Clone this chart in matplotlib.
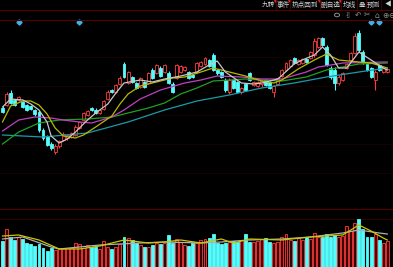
import matplotlib.pyplot as plt
from matplotlib.lines import Line2D
from matplotlib.patches import Ellipse, Polygon

plt.rcParams['font.family'] = ['Noto Sans CJK SC', 'DejaVu Sans']

# daily candles (price)
opens = [14.2, 14.5, 15.7, 15.0, 15.0, 14.8, 14.5, 14.4, 14.0, 13.8,
         12.0, 11.3, 10.6, 9.8, 10.4, 11.0, 11.2, 11.3, 11.5, 12.2,
         13.0, 13.5, 14.2, 14.0, 13.7, 14.1, 15.1, 16.0, 15.8, 16.6,
         18.6, 16.7, 17.3, 16.7, 16.3, 16.8, 16.7, 18.0, 17.7, 18.2,
         17.8, 17.7, 16.6, 17.2, 17.8, 18.0, 17.8, 17.5, 17.8, 18.4,
         18.6, 19.0, 19.5, 18.0, 17.8, 17.0, 15.8, 17.0, 16.8, 15.8,
         16.6, 17.7, 16.5, 16.4, 16.6, 17.0, 16.8, 15.8, 16.6, 17.4,
         18.0, 18.4, 19.2, 18.6, 18.7, 19.1, 19.2, 19.5, 20.3, 21.2,
         20.3, 18.2, 18.0, 16.7, 17.0, 18.2, 19.0, 19.7, 21.7, 19.8,
         18.6, 18.2, 17.0, 18.5, 17.8, 17.8]
closes = [13.8, 15.6, 14.7, 14.5, 15.3, 14.3, 14.0, 14.1, 13.6, 12.0,
          11.2, 10.5, 10.2, 10.4, 10.9, 11.6, 11.5, 11.7, 12.3, 12.8,
          13.7, 13.9, 14.0, 13.7, 14.0, 14.9, 15.8, 15.8, 16.5, 17.2,
          17.3, 17.8, 16.8, 16.2, 17.2, 16.3, 17.7, 17.2, 18.5, 17.4,
          18.5, 16.7, 15.8, 18.5, 18.4, 18.3, 17.2, 17.3, 18.7, 18.8,
          19.2, 18.4, 18.0, 17.7, 17.3, 16.0, 17.0, 16.2, 15.8, 16.2,
          16.0, 17.0, 16.8, 16.8, 16.9, 16.5, 16.2, 16.4, 17.2, 18.0,
          18.7, 19.0, 18.7, 19.0, 19.1, 18.8, 19.8, 20.9, 21.2, 20.5,
          18.5, 17.3, 16.7, 17.3, 17.7, 18.6, 19.7, 21.4, 20.0, 18.8,
          18.0, 17.3, 17.8, 18.0, 18.2, 18.1]
highs = [14.4, 15.8, 16.0, 15.1, 15.4, 14.9, 14.6, 14.5, 14.1, 14.0,
         12.2, 11.5, 10.8, 10.6, 11.0, 11.8, 11.6, 11.8, 12.5, 12.9,
         13.8, 14.0, 14.3, 14.2, 14.1, 15.0, 16.0, 16.1, 16.6, 17.4,
         18.8, 17.9, 17.4, 16.8, 17.3, 16.9, 17.8, 18.2, 18.6, 18.4,
         18.6, 17.9, 16.8, 18.6, 18.5, 18.4, 17.9, 17.6, 18.8, 18.9,
         19.3, 19.1, 19.7, 18.1, 17.9, 17.2, 17.2, 17.1, 16.9, 16.3,
         16.7, 17.8, 16.9, 16.9, 17.0, 17.1, 16.9, 16.5, 17.3, 18.1,
         18.8, 19.1, 19.3, 19.1, 19.2, 19.2, 19.9, 21.2, 21.3, 21.3,
         20.5, 18.4, 18.3, 17.5, 17.8, 18.7, 19.8, 21.7, 22.0, 20.0,
         18.7, 18.3, 18.0, 18.6, 18.3, 18.2]
lows = [13.7, 14.4, 14.6, 14.4, 14.9, 14.2, 13.9, 14.0, 13.4, 11.8,
        11.0, 10.4, 10.0, 9.6, 10.2, 10.9, 11.0, 11.2, 11.4, 12.1,
        12.9, 13.4, 13.9, 13.6, 13.6, 14.0, 15.0, 15.7, 15.7, 16.5,
        17.2, 16.6, 16.7, 16.1, 16.2, 16.2, 16.6, 17.1, 17.6, 17.3,
        17.7, 16.6, 15.7, 17.1, 17.7, 17.9, 17.1, 17.2, 17.7, 18.3,
        18.5, 18.3, 17.9, 17.5, 17.2, 15.8, 15.6, 16.1, 15.7, 15.6,
        15.9, 16.9, 16.4, 16.3, 16.3, 16.4, 16.1, 15.3, 16.5, 17.3,
        17.9, 18.3, 18.6, 18.5, 18.6, 18.7, 19.1, 19.3, 20.2, 20.4,
        18.4, 17.1, 16.0, 16.5, 16.9, 18.1, 18.9, 19.6, 19.8, 18.6,
        17.9, 17.2, 16.0, 17.9, 17.7, 17.7]
volumes = [2.6, 3.8, 3.0, 2.7, 3.0, 2.8, 2.4, 2.3, 2.1, 2.3,
           1.9, 1.6, 1.9, 1.7, 1.9, 1.8, 1.9, 1.9, 2.4, 2.3,
           1.9, 2.2, 2.0, 2.0, 1.8, 2.6, 2.0, 1.8, 2.0, 2.3,
           3.0, 2.9, 2.7, 2.4, 2.2, 2.0, 2.0, 2.2, 2.4, 2.3,
           2.4, 3.2, 2.4, 2.8, 2.5, 2.2, 2.1, 2.4, 2.4, 2.7,
           2.8, 2.9, 3.3, 2.4, 2.3, 2.4, 2.5, 2.6, 2.5, 2.7,
           3.3, 2.5, 2.5, 2.6, 2.8, 2.9, 2.5, 2.4, 2.5, 3.0,
           3.3, 2.7, 2.6, 2.9, 2.7, 3.0, 2.8, 3.4, 3.0, 3.0,
           3.3, 3.0, 3.2, 3.0, 3.1, 4.1, 3.6, 4.4, 4.8, 3.8,
           3.0, 3.0, 3.3, 2.7, 2.4, 2.6]

# moving averages (candle index, value)
ma5_idx = [0, 2, 5, 7, 9, 11, 12, 14, 16, 18, 21, 23, 26, 28, 30, 34, 37, 40, 44, 48,
           51, 53, 55, 59, 62, 64, 68, 72, 74, 77, 79, 81, 83, 85, 88, 91, 94, 95]
ma5_val = [14.3, 15.1, 15.0, 14.6, 14.0, 12.8, 11.4, 10.7, 11.1, 11.8, 13.0, 13.7, 14.6, 15.7,
           16.7, 17.0, 16.8, 17.1, 17.4, 17.8, 18.5, 18.9, 17.8, 16.7, 16.6, 16.7, 17.1, 18.6,
           19.0, 19.5, 20.3, 19.5, 18.2, 18.2, 19.8, 19.0, 18.2, 18.0]
ma10_idx = [0, 2, 5, 7, 9, 11, 13, 15, 18, 20, 23, 27, 29, 31, 34, 38, 42, 45, 49, 52,
            55, 60, 64, 67, 69, 73, 77, 80, 83, 88, 91, 95]
ma10_val = [12.8, 14.4, 14.9, 14.9, 14.5, 13.6, 12.2, 11.4, 11.2, 11.5, 12.3, 13.4, 14.6, 15.6,
            16.4, 16.8, 17.2, 17.3, 17.8, 18.2, 17.9, 17.4, 16.9, 16.7, 17.0, 18.1, 19.0, 19.6,
            19.0, 18.8, 18.7, 18.2]
ma20_idx = [0, 4, 8, 12, 15, 19, 22, 27, 30, 34, 39, 45, 49, 53, 59, 64, 69, 75, 78, 84, 94, 95]
ma20_val = [11.9, 13.0, 13.3, 13.2, 13.0, 12.8, 12.7, 13.3, 14.0, 15.1, 16.0, 16.7, 17.0, 17.4,
            17.3, 17.1, 17.1, 17.8, 18.3, 18.7, 18.8, 18.8]
ma30_idx = [0, 4, 9, 14, 21, 27, 31, 36, 40, 44, 48, 52, 60, 64, 69, 75, 80, 88, 95]
ma30_val = [10.6, 11.8, 12.7, 13.0, 13.1, 13.3, 13.7, 14.2, 14.7, 15.6, 16.2, 16.9, 17.1, 17.0,
            16.9, 17.3, 18.0, 18.6, 18.7]
ma60_idx = [0, 10, 21, 31, 40, 48, 56, 64, 72, 80, 88, 95]
ma60_val = [11.5, 11.3, 11.7, 12.8, 14.0, 14.9, 15.5, 16.2, 16.7, 17.3, 17.8, 18.2]

vma5_idx = [0, 4, 9, 14, 19, 24, 30, 36, 40, 44, 49, 54, 57, 61, 69, 76, 84, 88, 91, 94, 95]
vma5_val = [3.1, 3.2, 2.7, 1.8, 1.8, 2.1, 2.7, 2.4, 2.5, 2.7, 2.4, 2.8, 2.4, 2.8, 2.7, 3.0,
            3.2, 4.2, 3.6, 2.9, 2.7]
vma10_idx = [0, 5, 12, 14, 19, 24, 34, 40, 49, 54, 61, 69, 76, 84, 88, 93, 95]
vma10_val = [2.8, 3.0, 2.0, 1.8, 2.0, 2.2, 2.4, 2.5, 2.4, 2.5, 2.7, 2.8, 3.0, 3.4, 3.7, 3.4, 3.3]

event_idx = [4, 19, 91, 93]
grid_prices = [19.3, 16.4, 13.5, 10.6, 7.7]

toolbar_labels = ['九转', '事件', '热点回到', '删自选', '均线', '叠', '预测', '◀']
toolbar_x = [268, 283, 305, 331, 349, 362, 373, 388]
toolbar_seps = [276, 290, 320, 341, 357, 366, 381]
icon_chars = ['✌', '↶', '✂', '⌂', '⊕', '⊖']
icon_x = [348, 358, 367, 377, 385, 391]

W, H = 393, 267
RED = '#ff3c3c'
CYAN = '#54fcfc'
DARK = '#560000'


def fx(px):
    return px / W


def fy(py):
    return 1 - py / H


fig = plt.figure(figsize=(W / 100, H / 100), dpi=100, facecolor='black')
ax = fig.add_axes([0, fy(209), 1, (209 - 20) / H])
vax = fig.add_axes([0, 0, 1, 58 / H])
for a in (ax, vax):
    a.set_facecolor('black')
    a.set_axis_off()
    a.set_xlim(-0.62, 96.42)
ax.set_ylim(4.1, 23.0)
vax.set_ylim(0, 5.8)

xs = list(range(len(opens)))
up = [c >= o for o, c in zip(opens, closes)]
cols = [RED if u else CYAN for u in up]

for p in grid_prices:
    ax.axhline(p, color='#1c0000', lw=0.6, zorder=0)

# candles
ax.vlines(xs, lows, highs, colors=cols, lw=0.8, zorder=2)
bottoms = [min(o, c) for o, c in zip(opens, closes)]
heights = [max(abs(c - o), 0.1) for o, c in zip(opens, closes)]
ax.bar(xs, heights, bottom=bottoms, width=0.72,
       color=['black' if u else CYAN for u in up], edgecolor=cols,
       linewidth=0.6, zorder=3)

# moving averages
ax.plot(ma60_idx, ma60_val, color='#1a9aac', lw=0.9, zorder=4)
ax.plot(ma30_idx, ma30_val, color='#20a020', lw=0.9, zorder=4)
ax.plot(ma20_idx, ma20_val, color='#c040c0', lw=0.9, zorder=4)
ax.plot(ma10_idx, ma10_val, color='#b8b800', lw=0.9, zorder=4)
ax.plot(ma5_idx, ma5_val, color='#c8c8c8', lw=0.9, zorder=4)

ax.plot(event_idx, [0.989] * len(event_idx), transform=ax.get_xaxis_transform(),
        ls='none', marker='D', ms=2.6, color='#3cb4ea', clip_on=False, zorder=5)

# volume panel
vax.bar(xs, volumes, width=0.72,
        color=['#3a0000' if u else CYAN for u in up], edgecolor=cols,
        linewidth=0.6, zorder=2)
vax.axhline(4.8, color='#3c0000', lw=0.6, zorder=0)
vax.plot(vma10_idx, vma10_val, color='#b0b0b0', lw=0.9, zorder=3)
vax.plot(vma5_idx, vma5_val, color='#c8c800', lw=0.9, zorder=3)

# frame lines
for py in (9.5, 20, 209):
    fig.add_artist(Line2D([0, 1], [fy(py), fy(py)], color=DARK, lw=0.8))

# toolbar
for lab, x in zip(toolbar_labels, toolbar_x):
    fig.text(fx(x), fy(4.8), lab, color='#d2d2d2', fontsize=4.8,
             ha='center', va='center')
for x in toolbar_seps:
    fig.add_artist(Line2D([fx(x), fx(x)], [fy(0), fy(9.5)], color=DARK, lw=0.6))
for x in toolbar_seps[:4]:
    fig.add_artist(Polygon([[fx(x - 2.2), fy(0)], [fx(x - 0.5), fy(0)], [fx(x - 0.5), fy(2.2)]],
                           closed=True, color='#e02020'))

fig.add_artist(Ellipse((fx(337), fy(15)), 5 / W, 3.5 / H, fill=False,
                       edgecolor='#8c8c8c', lw=0.7))
for ch, x in zip(icon_chars, icon_x):
    fig.text(fx(x), fy(15), ch, color='#8c8c8c', fontsize=5.5,
             family=['DejaVu Sans'], ha='center', va='center')

fig.savefig('out.png', dpi=100, facecolor='black')
